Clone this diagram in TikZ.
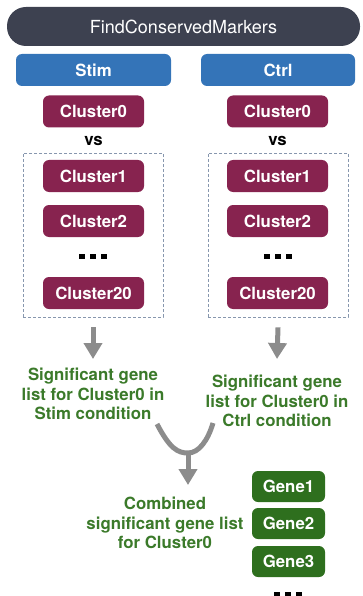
\documentclass[tikz,border=0pt]{standalone}
\usepackage{fontspec}
\setmainfont{TeX Gyre Heros}
\usetikzlibrary{arrows.meta}
\definecolor{barcol}{HTML}{3D4150}
\definecolor{bluecol}{HTML}{3474B8}
\definecolor{maroon}{HTML}{87234F}
\definecolor{gtext}{HTML}{3B7A2A}
\definecolor{gbox}{HTML}{2E6F1E}
\definecolor{dashcol}{HTML}{8797AE}
\definecolor{arrcol}{HTML}{8C8C8C}
\tikzset{
  boxfont/.style={font=\fontsize{16.8}{19.5}\selectfont\bfseries},
  titlebar/.style={fill=barcol, text=white, rounded corners=19pt, minimum width=353pt, minimum height=39pt, inner sep=0pt, font=\fontsize{18}{20}\selectfont},
  condbox/.style={boxfont, fill=bluecol, text=white, rounded corners=6pt, minimum height=32pt, inner sep=0pt},
  clbox/.style={boxfont, fill=maroon, text=white, rounded corners=6pt, minimum width=101pt, minimum height=32pt, inner sep=0pt},
  genebox/.style={boxfont, fill=gbox, text=white, rounded corners=6pt, minimum width=73pt, minimum height=31pt, inner sep=0pt},
  dashbox/.style={draw=dashcol, line width=0.8pt, dash pattern=on 3pt off 2pt, minimum width=140pt, minimum height=164pt, inner sep=0pt},
  gtxt/.style={boxfont, text=gtext, align=center, inner sep=0pt},
  vstxt/.style={boxfont, text=black, inner sep=0pt},
  garrow/.style={draw=arrcol, line width=5pt, -{Triangle[width=18pt,length=16pt]}},
  gline/.style={draw=arrcol, line width=5pt},
  dotsq/.style={fill=black, minimum width=6pt, minimum height=5pt, inner sep=0pt},
}
\begin{document}
\begin{tikzpicture}[x=1pt,y=-1pt]
\useasboundingbox (0,0) rectangle (362,596);
\node[titlebar] (title) at (183.5,26.5) {FindConservedMarkers};
\node[condbox, minimum width=155pt] (stim) at (93.5,70) {Stim};
\node[condbox, minimum width=154pt] (ctrl) at (278,70) {Ctrl};
% Stim column
\node[clbox] (s0) at (93.5,111.5) {Cluster0};
\node[vstxt] (svs) at (93.5,141) {vs};
\node[dashbox] (sbox) at (93,235) {};
\node[clbox] (s1) at (93.5,176) {Cluster1};
\node[clbox] (s2) at (93.5,221) {Cluster2};
\node[dotsq] (sd1) at (82,256.5) {};
\node[dotsq] (sd2) at (93,256.5) {};
\node[dotsq] (sd3) at (104,256.5) {};
\node[clbox] (s20) at (93.5,293) {Cluster20};
% Ctrl column
\node[clbox] (c0) at (277.5,111.5) {Cluster0};
\node[vstxt] (cvs) at (277.5,141) {vs};
\node[dashbox] (cbox) at (278,235) {};
\node[clbox] (c1) at (277.5,176) {Cluster1};
\node[clbox] (c2) at (277.5,221) {Cluster2};
\node[dotsq] (cd1) at (267,256.5) {};
\node[dotsq] (cd2) at (278,256.5) {};
\node[dotsq] (cd3) at (289,256.5) {};
\node[clbox] (c20) at (277.5,293) {Cluster20};
% result texts
\node[gtxt] (stext) at (93,394) {Significant gene\\list for Cluster0 in\\Stim condition};
\node[gtxt] (ctext) at (277,401) {Significant gene\\list for Cluster0 in\\Ctrl condition};
\draw[garrow] ([yshift=-10pt]sbox.south) -- (93,359);
\draw[garrow] ([yshift=-10pt]cbox.south) -- (277,359);
% merge
\coordinate (ml) at (157,424);
\coordinate (mr) at (213,423);
\coordinate (mb) at (188,453);
\draw[gline] (ml) .. controls (170,449) and (178,453) .. (mb) .. controls (199,453) and (208,440) .. (mr);
\node[gtxt] (comb) at (165,523) {Combined\\significant gene list\\for Cluster0};
\draw[garrow] ([yshift=2.5pt]mb) -- (188,485);
% genes
\node[genebox] (g1) at (288.5,486.5) {Gene1};
\node[genebox] (g2) at (288.5,523.5) {Gene2};
\node[genebox] (g3) at (288.5,561.5) {Gene3};
\node[dotsq] (gd1) at (276.5,594) {};
\node[dotsq] (gd2) at (287.5,594) {};
\node[dotsq] (gd3) at (298.5,594) {};
\end{tikzpicture}
\end{document}
